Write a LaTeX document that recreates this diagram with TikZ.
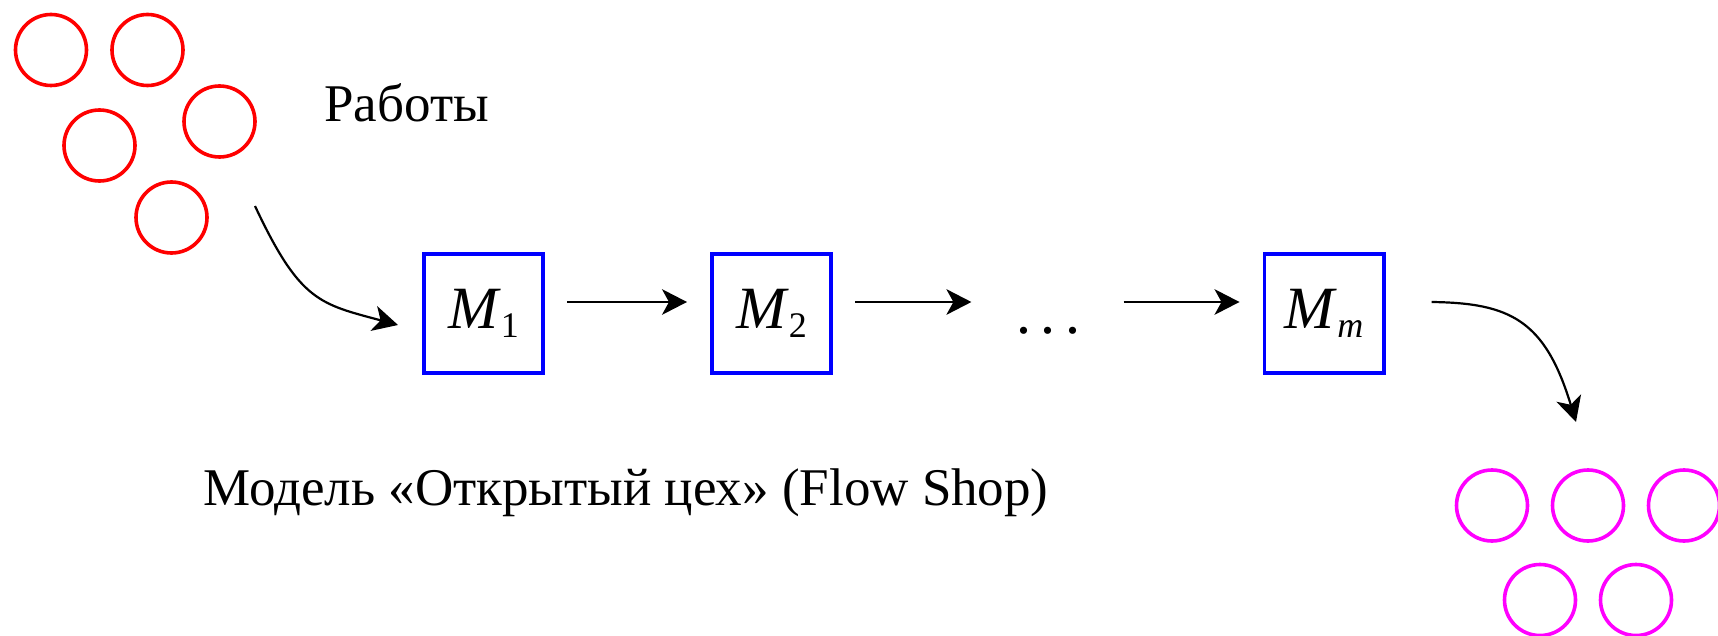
\documentclass[tikz,border=0pt]{standalone}
\usepackage{fontspec}
\setmainfont{Liberation Serif}
\usetikzlibrary{arrows.meta}
\definecolor{jobred}{RGB}{255,0,0}
\definecolor{machblue}{RGB}{0,0,255}
\definecolor{donemag}{RGB}{255,0,255}
\newcommand\mach[1]{\textit{M}\raisebox{-4.5pt}{\fontsize{18}{18}\selectfont #1}}
\begin{document}
\begin{tikzpicture}[x=0.5pt,y=-0.5pt,
  job/.style={circle,draw=jobred,line width=1.8pt,minimum size=35.5pt,inner sep=0pt},
  done/.style={circle,draw=donemag,line width=1.8pt,minimum size=35.5pt,inner sep=0pt},
  machine/.style={rectangle,draw=machblue,line width=1.9pt,minimum width=59.6pt,minimum height=59.6pt,inner sep=0pt,font=\fontsize{30}{30}\selectfont},
  label/.style={inner sep=0pt,anchor=base west,font=\fontsize{26.5}{30}\selectfont},
  arr/.style={line width=1.1pt,-{Stealth[length=12.5pt,width=12.8pt,inset=3.5pt]}}]
\useasboundingbox (0,0) rectangle (1718,636);
% jobs
\node[job] (j1) at (51,50) {};
\node[job] (j2) at (147.5,50) {};
\node[job] (j3) at (219.5,121.5) {};
\node[job] (j4) at (99.5,145.5) {};
\node[job] (j5) at (171.5,217.5) {};
\node[label] (jobs) at (324,122) {Работы};
% machines
\node[machine] (M1) at (483.5,313.5) {\mach{1}};
\node[machine] (M2) at (771.5,313.5) {\mach{2}};
\node[machine] (Mm) at (1324,313.5) {\mach{\textit{m}}};
\node[inner sep=0pt,anchor=base,font=\fontsize{30}{30}\selectfont] (dots) at (1048.5,333) {.\hspace{4.6pt}.\hspace{4.6pt}.};
% finished jobs
\node[done] (d1) at (1492,505.5) {};
\node[done] (d2) at (1588,505.5) {};
\node[done] (d3) at (1684,505.5) {};
\node[done] (d4) at (1540,600) {};
\node[done] (d5) at (1636,600) {};
\node[label] (title) at (203,505) {Модель «Открытый цех» (Flow Shop)};
% connectors
\coordinate (in) at (255,206);
\coordinate (out) at (1576,422);
\path (M2.east -| dots.west) coordinate (dw);
\path (Mm.west -| dots.east) coordinate (de);
\draw[arr] (in) .. controls (300,302) and (320,304) .. ([xshift=-12pt,yshift=-5.75pt]M1.west);
\draw[arr] ([xshift=11pt,yshift=5.75pt]M1.east) -- ([xshift=-11.5pt,yshift=5.75pt]M2.west);
\draw[arr] ([xshift=11pt,yshift=5.75pt]M2.east) -- ([xshift=-22.5pt,yshift=5.75pt]dw);
\draw[arr] ([xshift=21.5pt,yshift=5.75pt]de) -- ([xshift=-11.5pt,yshift=5.75pt]Mm.west);
\draw[arr] ([xshift=23pt,yshift=5.75pt]Mm.east) .. controls (1510,303) and (1545,320) .. (out);
\end{tikzpicture}
\end{document}
